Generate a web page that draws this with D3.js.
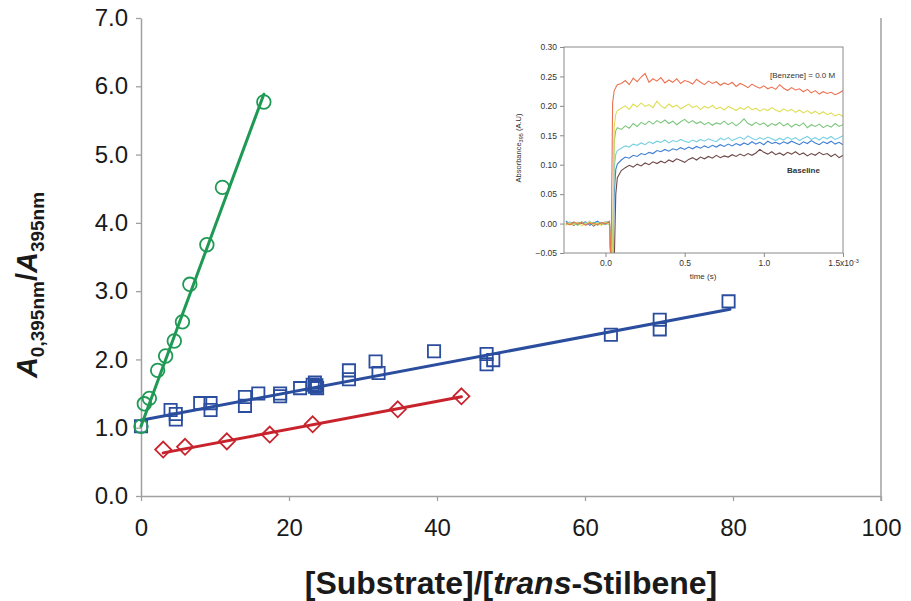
<!DOCTYPE html>
<html>
<head>
<meta charset="utf-8">
<script src="https://cdn.jsdelivr.net/npm/d3@7"></script>
<style>
  body { margin: 0; background: #fff; }
  svg { display: block; font-family: "Liberation Sans", Arial, Helvetica, sans-serif; }
</style>
</head>
<body>
<svg id="chart" width="911" height="601"></svg>
<script>
// ---- main plot: ratio vs. [Substrate]/[trans-Stilbene] ----
const xTicks = [0, 20, 40, 60, 80, 100];
const yTicks = [0, 1, 2, 3, 4, 5, 6, 7];

// circles (green)
const circleX = [0, 0.45, 1.13, 2.25, 3.33, 4.5, 5.6, 6.6, 8.9, 11.0, 16.6];
const circleY = [1.02, 1.35, 1.43, 1.84, 2.05, 2.27, 2.55, 3.10, 3.68, 4.52, 5.77];
const circleFit = { intercept: 1.02, slope: 0.293, from: 0, to: 16.6 };

// squares (blue)
const squareX = [0, 4.0, 4.7, 4.7, 8.0, 9.4, 9.4, 14.05, 14.05, 15.85,
                 18.8, 18.8, 21.5, 23.5, 23.5, 23.7, 23.2, 23.8, 28.1, 28.1,
                 31.7, 32.1, 39.6, 46.7, 46.7, 47.6, 63.5, 70.1, 70.1, 79.4];
const squareY = [1.02, 1.26, 1.20, 1.12, 1.36, 1.36, 1.26, 1.45, 1.32, 1.50,
                 1.50, 1.46, 1.58, 1.66, 1.60, 1.62, 1.63, 1.58, 1.84, 1.71,
                 1.97, 1.80, 2.12, 2.08, 1.93, 1.99, 2.36, 2.58, 2.44, 2.85];
const squareFit = { intercept: 1.11, slope: 0.0204, from: 0, to: 79.6 };

// diamonds (red)
const diamondX = [3.0, 5.95, 11.6, 17.4, 23.2, 34.7, 43.3];
const diamondY = [0.68, 0.72, 0.80, 0.90, 1.05, 1.27, 1.46];
const diamondFit = { intercept: 0.57, slope: 0.0204, from: 3.0, to: 43.3 };

// ---- inset: absorbance transients ----
const insetYTicks = [-0.05, 0, 0.05, 0.10, 0.15, 0.20, 0.25, 0.30];
const insetXTicks = [0, 0.5, 1.0, 1.5];
const traceTime = [
  -0.25, -0.225, -0.2, -0.175, -0.15, -0.125, -0.1, -0.075, -0.05, -0.025, 0, 0.025,
  0.035, 0.045, 0.055, 0.065, 0.075,
  0.1, 0.125, 0.15, 0.175, 0.2, 0.225, 0.25, 0.275, 0.3, 0.325,
  0.35, 0.375, 0.4, 0.425, 0.45, 0.475, 0.5, 0.525, 0.55, 0.575,
  0.6, 0.625, 0.65, 0.675, 0.7, 0.725, 0.75, 0.775, 0.8, 0.825,
  0.85, 0.875, 0.9, 0.925, 0.95, 0.975, 1.0, 1.025, 1.05, 1.075,
  1.1, 1.125, 1.15, 1.175, 1.2, 1.225, 1.25, 1.275, 1.3, 1.325,
  1.35, 1.375, 1.4, 1.425, 1.45, 1.475, 1.5
];
const traceRed = [
  0.001, -0.002, 0.003, -0.001, 0.002, -0.003, 0.001, 0.000, -0.002, 0.002, -0.001, 0.004,
  -0.07, 0.205, 0.226, 0.231, 0.236,
  0.238, 0.243, 0.236, 0.247, 0.241, 0.249, 0.255, 0.240, 0.246, 0.242,
  0.248, 0.239, 0.244, 0.240, 0.246, 0.238, 0.243, 0.241, 0.237, 0.245,
  0.240, 0.236, 0.242, 0.238, 0.241, 0.235, 0.239, 0.236, 0.240, 0.233,
  0.238, 0.235, 0.231, 0.237, 0.233, 0.230, 0.234, 0.229, 0.232, 0.228,
  0.236, 0.230, 0.226, 0.231, 0.227, 0.229, 0.224, 0.228, 0.222, 0.226,
  0.220, 0.224, 0.221, 0.223, 0.219, 0.222, 0.226
];
const traceYellow = [
  -0.003, 0.001, -0.002, 0.002, -0.004, 0.000, 0.003, -0.002, 0.001, -0.003, 0.002, -0.001,
  -0.07, -0.07, 0.165, 0.186, 0.192,
  0.196, 0.200, 0.194, 0.203, 0.198, 0.205, 0.199, 0.202, 0.197, 0.208,
  0.200, 0.196, 0.203, 0.198, 0.201, 0.195, 0.199, 0.203, 0.197, 0.200,
  0.194, 0.199, 0.196, 0.201, 0.195, 0.198, 0.193, 0.199, 0.196, 0.192,
  0.197, 0.194, 0.199, 0.193, 0.196, 0.191, 0.195, 0.192, 0.197, 0.193,
  0.190, 0.195, 0.191, 0.194, 0.189, 0.193, 0.188, 0.192, 0.187, 0.191,
  0.186, 0.190, 0.185, 0.188, 0.183, 0.186, 0.182
];
const traceGreen = [
  0.002, -0.001, 0.001, -0.003, 0.003, -0.002, 0.000, 0.002, -0.003, 0.001, 0.003, -0.002,
  -0.07, -0.07, 0.140, 0.158, 0.163,
  0.160, 0.166, 0.162, 0.170, 0.165, 0.172, 0.168, 0.174, 0.169, 0.175,
  0.171, 0.176, 0.170, 0.174, 0.168, 0.173, 0.177, 0.171, 0.175, 0.170,
  0.173, 0.168, 0.172, 0.167, 0.171, 0.169, 0.174, 0.168, 0.172, 0.166,
  0.171, 0.178, 0.170, 0.167, 0.172, 0.168, 0.171, 0.165, 0.170, 0.167,
  0.172, 0.166, 0.170, 0.164, 0.169, 0.166, 0.171, 0.163, 0.168, 0.165,
  0.169, 0.163, 0.167, 0.164, 0.170, 0.165, 0.168
];
const traceCyan = [
  -0.001, 0.003, -0.002, 0.000, 0.002, -0.001, 0.004, -0.003, 0.002, 0.000, -0.002, 0.001,
  -0.07, -0.07, 0.095, 0.118, 0.124,
  0.128, 0.132, 0.130, 0.135, 0.133, 0.137, 0.134, 0.139, 0.136, 0.140,
  0.138, 0.142, 0.137, 0.141, 0.139, 0.143, 0.140, 0.138, 0.142, 0.139,
  0.143, 0.140, 0.144, 0.141, 0.139, 0.145, 0.142, 0.146, 0.141, 0.144,
  0.147, 0.143, 0.149, 0.145, 0.142, 0.146, 0.143, 0.147, 0.144, 0.141,
  0.145, 0.142, 0.147, 0.143, 0.146, 0.141, 0.145, 0.148, 0.143, 0.146,
  0.142, 0.147, 0.144, 0.148, 0.143, 0.146, 0.149
];
const traceBlue = [
  0.004, 0.000, 0.002, -0.002, 0.001, 0.003, -0.003, 0.001, 0.004, -0.001, 0.002, 0.003,
  -0.07, -0.07, 0.050, 0.092, 0.101,
  0.108, 0.113, 0.111, 0.116, 0.114, 0.119, 0.117, 0.121, 0.119, 0.124,
  0.122, 0.126, 0.123, 0.127, 0.125, 0.129, 0.126, 0.130, 0.127, 0.131,
  0.128, 0.132, 0.129, 0.133, 0.130, 0.134, 0.131, 0.135, 0.132, 0.136,
  0.133, 0.137, 0.134, 0.139, 0.135, 0.138, 0.134, 0.140, 0.136, 0.138,
  0.135, 0.139, 0.136, 0.140, 0.137, 0.134, 0.139, 0.136, 0.141, 0.137,
  0.134, 0.139, 0.136, 0.140, 0.135, 0.138, 0.134
];
const traceBaseline = [
  -0.002, 0.001, -0.003, 0.002, 0.000, -0.002, 0.002, -0.004, 0.001, -0.002, 0.000, 0.002,
  -0.07, -0.07, -0.07, 0.050, 0.078,
  0.090, 0.095, 0.099, 0.096, 0.101, 0.098, 0.103, 0.100, 0.105, 0.102,
  0.106, 0.103, 0.108, 0.105, 0.110, 0.107, 0.104, 0.109, 0.112, 0.108,
  0.113, 0.110, 0.114, 0.111, 0.116, 0.112, 0.115, 0.113, 0.117, 0.114,
  0.118, 0.115, 0.119, 0.116, 0.120, 0.126, 0.121, 0.118, 0.122, 0.117,
  0.120, 0.116, 0.121, 0.118, 0.122, 0.117, 0.120, 0.115, 0.119, 0.116,
  0.121, 0.117, 0.119, 0.114, 0.118, 0.112, 0.116
];

const svg = d3.select("#chart");
const AXIS = "#a0a0a0";
const TEXT = "#1a1a1a";
const GREEN = "#1f9a55", BLUE = "#2a4d9e", RED = "#c8232c";

// scales
const x = d3.scaleLinear().domain([0, 100]).range([141, 881]);
const y = d3.scaleLinear().domain([0, 7]).range([496, 18]);

// y axis
const gy = svg.append("g").attr("transform", `translate(${x(0)},0)`)
  .call(d3.axisLeft(y).tickValues(yTicks).tickFormat(d3.format(".1f")).tickSize(5).tickPadding(8).tickSizeOuter(0));
// x axis
const gx = svg.append("g").attr("transform", `translate(0,${y(0)})`)
  .call(d3.axisBottom(x).tickValues(xTicks).tickFormat(d3.format("d")).tickSize(5).tickPadding(18).tickSizeOuter(0));
[gx, gy].forEach(g => {
  g.select(".domain").attr("stroke", AXIS).attr("stroke-width", 1.5);
  g.selectAll(".tick line").attr("stroke", AXIS).attr("stroke-width", 1.3);
  g.selectAll(".tick text").attr("fill", TEXT).style("font-size", "24px")
    .style("font-family", '"Liberation Sans", Arial, sans-serif');
});
// right border line
svg.append("line").attr("x1", x(100)).attr("x2", x(100)).attr("y1", y(7)).attr("y2", y(0) + 5)
  .attr("stroke", AXIS).attr("stroke-width", 1.5);

// fit lines
function fitLine(f, color) {
  svg.append("line")
    .attr("x1", x(f.from)).attr("y1", y(f.intercept + f.slope * f.from))
    .attr("x2", x(f.to)).attr("y2", y(f.intercept + f.slope * f.to))
    .attr("stroke", color).attr("stroke-width", 3).attr("stroke-linecap", "round");
}
fitLine(diamondFit, RED);
fitLine(squareFit, BLUE);
fitLine(circleFit, GREEN);

// markers
const sq = d3.symbol().type(d3.symbolSquare).size(150);
svg.append("g").selectAll("path").data(squareX.map((v, i) => [v, squareY[i]])).join("path")
  .attr("d", sq).attr("transform", d => `translate(${x(d[0])},${y(d[1])})`)
  .attr("fill", "none").attr("stroke", BLUE).attr("stroke-width", 1.8);

svg.append("g").selectAll("path").data(diamondX.map((v, i) => [v, diamondY[i]])).join("path")
  .attr("d", "M0,-8L8,0L0,8L-8,0Z").attr("transform", d => `translate(${x(d[0])},${y(d[1])})`)
  .attr("fill", "none").attr("stroke", RED).attr("stroke-width", 1.8);

svg.append("g").selectAll("circle").data(circleX.map((v, i) => [v, circleY[i]])).join("circle")
  .attr("cx", d => x(d[0])).attr("cy", d => y(d[1])).attr("r", 6.8)
  .attr("fill", "none").attr("stroke", GREEN).attr("stroke-width", 1.8);

// axis titles
const yt = svg.append("text").attr("transform", "translate(37,285) rotate(-90)")
  .attr("text-anchor", "middle").attr("fill", TEXT)
  .style("font-size", "29px").style("font-weight", "bold");
yt.append("tspan").style("font-style", "italic").text("A");
yt.append("tspan").style("font-size", "19px").attr("dy", 7).text("0,395nm");
yt.append("tspan").attr("dy", -7).text("/");
yt.append("tspan").style("font-style", "italic").text("A");
yt.append("tspan").style("font-size", "19px").attr("dy", 7).text("395nm");

const xt = svg.append("text").attr("x", 511).attr("y", 594).attr("text-anchor", "middle")
  .attr("fill", TEXT).style("font-size", "32px").style("font-weight", "bold");
xt.append("tspan").text("[Substrate]/[");
xt.append("tspan").style("font-style", "italic").text("trans");
xt.append("tspan").text("-Stilbene]");

// ---- inset ----
const ix = d3.scaleLinear().domain([-0.262, 1.5]).range([564, 843]);
const iy = d3.scaleLinear().domain([-0.05, 0.30]).range([253, 47]);
const inset = svg.append("g");
inset.append("clipPath").attr("id", "insetClip").append("rect")
  .attr("x", ix.range()[0]).attr("y", iy.range()[1])
  .attr("width", ix.range()[1] - ix.range()[0]).attr("height", iy.range()[0] - iy.range()[1]);

const traces = [
  [traceBaseline, "#6e4848"],
  [traceBlue, "#3d7fd3"],
  [traceCyan, "#78d0e2"],
  [traceGreen, "#7cc67c"],
  [traceYellow, "#dede55"],
  [traceRed, "#ec7252"]
];
const tl = d3.line().x(d => ix(d[0])).y(d => iy(d[1]));
const tg = inset.append("g").attr("clip-path", "url(#insetClip)");
traces.forEach(([vals, col]) => {
  const pts = traceTime.map((t, i) => [t, vals[i]]).filter(d => d[1] !== undefined);
  tg.append("path").attr("d", tl(pts)).attr("fill", "none")
    .attr("stroke", col).attr("stroke-width", 1.1);
});

inset.append("rect")
  .attr("x", ix.range()[0]).attr("y", iy.range()[1])
  .attr("width", ix.range()[1] - ix.range()[0]).attr("height", iy.range()[0] - iy.range()[1])
  .attr("fill", "none").attr("stroke", "#8a8a8a").attr("stroke-width", 1);

const igy = inset.append("g").attr("transform", `translate(${ix.range()[0]},0)`)
  .call(d3.axisLeft(iy).tickValues(insetYTicks).tickFormat(d3.format(".2f")).tickSize(4).tickPadding(3).tickSizeOuter(0));
const igx = inset.append("g").attr("transform", `translate(0,${iy.range()[0]})`)
  .call(d3.axisBottom(ix).tickValues(insetXTicks)
    .tickFormat(d => d === 1.5 ? "1.5x10" : d3.format(".1f")(d)).tickSize(4).tickPadding(3).tickSizeOuter(0));
[igx, igy].forEach(g => {
  g.select(".domain").attr("stroke", "none");
  g.selectAll(".tick line").attr("stroke", "#8a8a8a");
  g.selectAll(".tick text").attr("fill", "#333").style("font-size", "8.5px")
    .style("font-family", '"Liberation Sans", Arial, sans-serif');
});
igx.selectAll(".tick text").filter(d => d === 1.5)
  .append("tspan").attr("dy", -3).style("font-size", "5.5px").text("-3");

inset.append("text").attr("x", 703).attr("y", 279).attr("text-anchor", "middle")
  .attr("fill", "#333").style("font-size", "8px").text("time (s)");
const iyl = inset.append("text").attr("transform", "translate(521,148) rotate(-90)")
  .attr("text-anchor", "middle").attr("fill", "#333").style("font-size", "7.5px");
iyl.append("tspan").text("Absorbance");
iyl.append("tspan").attr("dy", 2).style("font-size", "5.5px").text("395");
iyl.append("tspan").attr("dy", -2).text(" (A.U)");

inset.append("text").attr("x", 770).attr("y", 78).attr("fill", "#333")
  .style("font-size", "8px").text("[Benzene] = 0.0 M");
inset.append("text").attr("x", 787).attr("y", 173).attr("fill", "#333")
  .style("font-size", "8px").style("font-weight", "bold").text("Baseline");
</script>
</body>
</html>
